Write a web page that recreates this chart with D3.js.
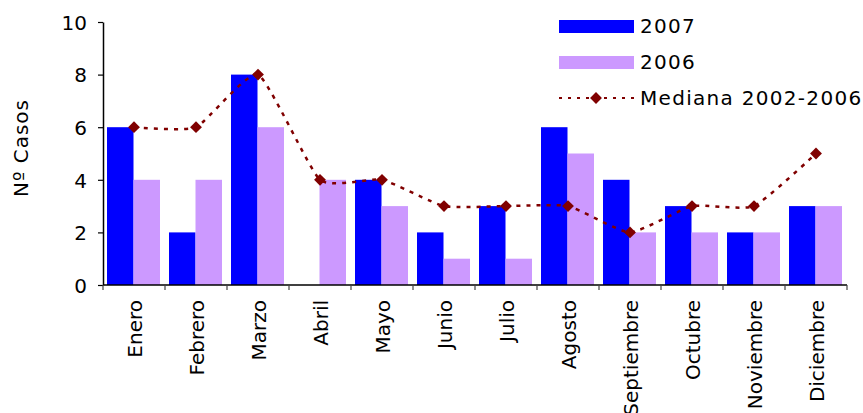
<!DOCTYPE html>
<html><head><meta charset="utf-8">
<script src="https://cdn.jsdelivr.net/npm/d3@7"></script>
<style>body{margin:0;background:#fff}svg{display:block}text{font-family:"DejaVu Sans",Verdana,sans-serif;fill:#000;font-size:20px}</style>
</head><body><svg id="c" width="863" height="413"></svg>
<script>
const months = ["Enero","Febrero","Marzo","Abril","Mayo","Junio","Julio","Agosto","Septiembre","Octubre","Noviembre","Diciembre"];
const cases2007 = [6,2,8,0,4,2,3,6,4,3,2,3];
const cases2006 = [4,4,6,4,3,1,1,5,2,2,2,3];
const median0206 = [6,6,8,4,4,3,3,3,2,3,3,5];
const yTicks = [0,2,4,6,8,10];
const seriesNames = ["2007","2006","Mediana 2002-2006"];

const svg = d3.select("#c");
const m = {l:103, r:847, t:22, b:285};
const x = d3.scaleBand().domain(months).range([m.l, m.r]).paddingInner(0).paddingOuter(0);
const y = d3.scaleLinear().domain([0,10]).range([m.b, m.t]);
const inner = d3.scaleBand().domain(["a","b"]).range([4, x.bandwidth()-5]).padding(0);
const colors = {a:"#0000ff", b:"#cc99ff"};

const g = svg.append("g");
months.forEach((mo,i)=>{
  [["a",cases2007[i]],["b",cases2006[i]]].forEach(([k,v])=>{
    if(v>0) g.append("rect").attr("x", x(mo)+inner(k)).attr("width", inner.bandwidth())
      .attr("y", y(v)).attr("height", y(0)-y(v)).attr("fill", colors[k]);
  });
});

// median line
const pts = months.map((mo,i)=>[x(mo)+x.bandwidth()/2, y(median0206[i])]);
svg.append("path").attr("d", d3.line().curve(d3.curveCardinal.tension(0.5))(pts))
  .attr("fill","none").attr("stroke","#800000").attr("stroke-width",2.5).attr("stroke-dasharray","4,6");
const diamond = d3.symbol().type(d3.symbolSquare).size(70);
pts.forEach(p=>svg.append("path").attr("d", diamond()).attr("transform",`translate(${p[0]},${p[1]}) rotate(45)`).attr("fill","#800000"));

// axes
const ya = svg.append("g").attr("transform",`translate(${m.l},0)`)
  .call(d3.axisLeft(y).tickValues(yTicks).tickSize(5).tickPadding(11).tickSizeOuter(0));
ya.select(".domain").attr("stroke","#000").attr("stroke-width",1.5);
ya.selectAll(".tick line").attr("stroke","#000").attr("stroke-width",1.2);
ya.selectAll("text").attr("font-size",null).attr("font-family",null).style("font-size","20px").attr("dy","0.36em");

const xa = svg.append("g").attr("transform",`translate(0,${m.b})`);
xa.append("line").attr("x1",m.l).attr("x2",m.r).attr("stroke","#000").attr("stroke-width",1.5);
const bounds = months.map(mo=>x(mo)).concat([m.r]);
bounds.forEach(b=>xa.append("line").attr("x1",b).attr("x2",b).attr("y1",0).attr("y2",5).attr("stroke","#444").attr("stroke-width",1.2));
months.forEach(mo=>{
  xa.append("text").text(mo).attr("transform",`translate(${x(mo)+x.bandwidth()/2+8},15) rotate(-90)`)
    .attr("text-anchor","end");
});

svg.append("text").text("Nº Casos").attr("transform","translate(28,148) rotate(-90)")
  .attr("text-anchor","middle").style("letter-spacing","1px");

// legend
const lg = svg.append("g").style("letter-spacing","1.3px");
lg.append("rect").attr("x",559).attr("y",20).attr("width",75).attr("height",13).attr("fill",colors.a);
lg.append("text").text(seriesNames[0]).attr("x",640).attr("y",33);
lg.append("rect").attr("x",559).attr("y",56).attr("width",75).attr("height",13).attr("fill",colors.b);
lg.append("text").text(seriesNames[1]).attr("x",640).attr("y",69);
lg.append("line").attr("x1",559).attr("x2",634).attr("y1",98).attr("y2",98).attr("stroke","#800000").attr("stroke-width",2).attr("stroke-dasharray","3,6");
lg.append("path").attr("d",diamond()).attr("transform","translate(596,98) rotate(45)").attr("fill","#800000");
lg.append("text").text(seriesNames[2]).attr("x",640).attr("y",105);
</script></body></html>
